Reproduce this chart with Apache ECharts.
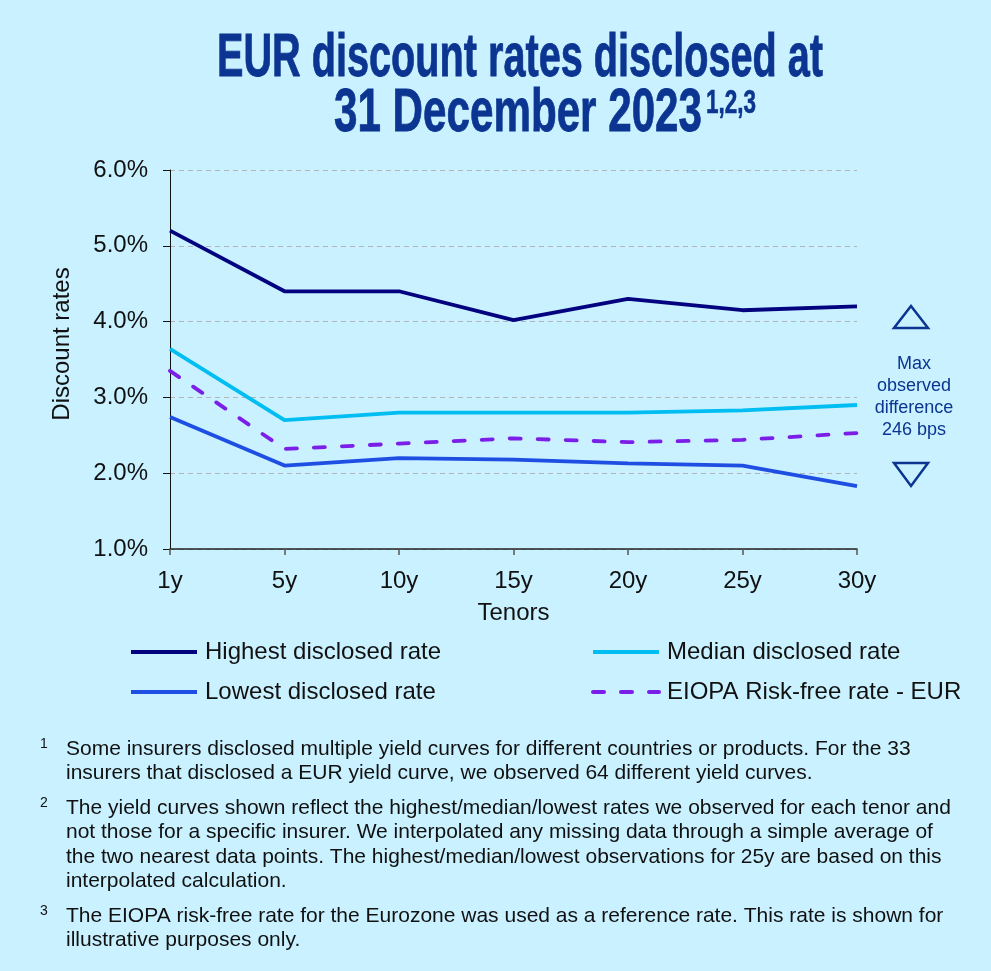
<!DOCTYPE html>
<html>
<head>
<meta charset="utf-8">
<script src="https://cdn.jsdelivr.net/npm/echarts@6/dist/echarts.min.js"></script>
<style>
  html, body { margin: 0; padding: 0; background: #c9f1ff; }
  #main { width: 991px; height: 971px; }
</style>
</head>
<body>
<div id="main"></div>
<script>
// data (percent)
var tenors = ['1y', '5y', '10y', '15y', '20y', '25y', '30y'];
var highest = [5.2, 4.4, 4.4, 4.02, 4.3, 4.15, 4.2];
var median = [3.64, 2.7, 2.8, 2.8, 2.8, 2.83, 2.9];
var lowest = [2.74, 2.1, 2.2, 2.18, 2.13, 2.1, 1.83];
var eiopa = [3.35, 2.32, 2.39, 2.46, 2.41, 2.44, 2.53];
var yTicks = [1, 2, 3, 4, 5, 6];

var titleLine1 = 'EUR discount rates disclosed at';
var titleLine2 = '31 December 2023';
var footnotes = [
  ['1', 'Some insurers disclosed multiple yield curves for different countries or products. For the 33\ninsurers that disclosed a EUR yield curve, we observed 64 different yield curves.'],
  ['2', 'The yield curves shown reflect the highest/median/lowest rates we observed for each tenor and\nnot those for a specific insurer. We interpolated any missing data through a simple average of\nthe two nearest data points. The highest/median/lowest observations for 25y are based on this\ninterpolated calculation.'],
  ['3', 'The EIOPA risk-free rate for the Eurozone was used as a reference rate. This rate is shown for\nillustrative purposes only.']
];

var titleColor = '#0b3590';
var fontFam = '"Liberation Sans", Arial, sans-serif';
var titleFont = '700 61px ' + fontFam;
var supFont = '700 34px ' + fontFam;

// squeeze the title so it looks like the condensed font of the original
var ctx = document.createElement('canvas').getContext('2d');
ctx.font = titleFont;
var sx1 = 606 / ctx.measureText(titleLine1).width;
var sx2 = 368 / ctx.measureText(titleLine2).width;
ctx.font = supFont;
var sx3 = 50 / ctx.measureText('1,2,3').width;

var myChart = echarts.init(document.getElementById('main'));

var graphics = [
  {
    type: 'text', x: 520, y: 59, scaleX: sx1,
    style: { text: titleLine1, font: titleFont, fill: titleColor, stroke: titleColor, lineWidth: 0.8, textAlign: 'center', textVerticalAlign: 'middle' }
  },
  {
    type: 'text', x: 334, y: 114, scaleX: sx2,
    style: { text: titleLine2, font: titleFont, fill: titleColor, stroke: titleColor, lineWidth: 0.8, textAlign: 'left', textVerticalAlign: 'middle' }
  },
  {
    type: 'text', x: 706, y: 104, scaleX: sx3,
    style: { text: '1,2,3', font: supFont, fill: titleColor, stroke: titleColor, lineWidth: 0.6, textAlign: 'left', textVerticalAlign: 'middle' }
  },
  // y axis title
  {
    type: 'text', x: 62, y: 344, rotation: Math.PI / 2,
    style: { text: 'Discount rates', font: '24px ' + fontFam, fill: '#111', textAlign: 'center', textVerticalAlign: 'middle' }
  },
  // max difference annotation
  {
    type: 'polygon', shape: { points: [[911, 306], [894, 328], [928, 328]] },
    style: { fill: 'none', stroke: titleColor, lineWidth: 2.5 }
  },
  {
    type: 'polygon', shape: { points: [[894, 463], [928, 463], [911, 486]] },
    style: { fill: 'none', stroke: titleColor, lineWidth: 2.5 }
  },
  {
    type: 'text', x: 914, y: 397,
    style: {
      text: 'Max\nobserved\ndifference\n246 bps', font: '18px ' + fontFam,
      fill: titleColor, textAlign: 'center', textVerticalAlign: 'middle', lineHeight: 22
    }
  }
];

// footnotes
var fnTop = [737, 796, 904];
footnotes.forEach(function (f, i) {
  graphics.push({
    type: 'text', x: 40, y: fnTop[i],
    style: { text: f[0], font: '14px ' + fontFam, fill: '#111', textVerticalAlign: 'top' }
  });
  graphics.push({
    type: 'text', x: 66, y: fnTop[i],
    style: { text: f[1], font: '21px ' + fontFam, fill: '#111', textVerticalAlign: 'top', lineHeight: 24.3 }
  });
});

function line(name, data, color, type) {
  return {
    name: name,
    type: 'line',
    data: data,
    symbol: 'none',
    lineStyle: { color: color, width: 3.8, type: type || 'solid', cap: type ? 'round' : 'butt' },
    itemStyle: { color: color },
    z: 3
  };
}

var legendText = { fontSize: 24, color: '#111', fontFamily: fontFam, padding: [0, 0, 0, 3] };
var legendBase = {
  orient: 'vertical', top: 640, padding: 0,
  itemWidth: 66, itemHeight: 16, itemGap: 16,
  textStyle: legendText,
  itemStyle: { color: 'transparent', borderColor: 'transparent', borderWidth: 0 },
  lineStyle: { width: 4 }
};

var option = {
  backgroundColor: '#c9f1ff',
  animation: false,
  textStyle: { fontFamily: fontFam },
  grid: { left: 170, right: 134, top: 170, bottom: 422 },
  legend: [
    Object.assign({ data: ['Highest disclosed rate', 'Lowest disclosed rate'], left: 129 }, legendBase),
    Object.assign({ data: ['Median disclosed rate', 'EIOPA Risk-free rate - EUR'], left: 591 }, legendBase)
  ],
  xAxis: {
    type: 'category',
    data: tenors,
    boundaryGap: false,
    name: 'Tenors',
    nameLocation: 'middle',
    nameGap: 52,
    nameTextStyle: { fontSize: 24, color: '#111' },
    axisLine: { lineStyle: { color: '#222', width: 1.5 } },
    axisTick: { show: true, length: 6, lineStyle: { color: '#555', width: 1.5 } },
    axisLabel: { fontSize: 24, color: '#111', margin: 20 }
  },
  yAxis: {
    type: 'value',
    min: yTicks[0],
    max: yTicks[yTicks.length - 1],
    interval: 1,
    axisLine: { show: true, lineStyle: { color: '#111', width: 1 } },
    axisTick: { show: true, length: 7, lineStyle: { color: '#111' } },
    axisLabel: { fontSize: 24, color: '#111', margin: 22, formatter: function (v) { return v.toFixed(1) + '%'; } },
    splitLine: { show: true, lineStyle: { color: '#b4b4b4', type: [5, 4], width: 1.2 } }
  },
  series: [
    line('Highest disclosed rate', highest, '#03037f'),
    line('Median disclosed rate', median, '#00bdf2'),
    line('Lowest disclosed rate', lowest, '#1f4fe2'),
    line('EIOPA Risk-free rate - EUR', eiopa, '#7b1fe8', [11, 17])
  ],
  graphic: graphics
};

myChart.setOption(option);
window.onresize = function () {
  myChart.resize();
};
</script>
</body>
</html>
